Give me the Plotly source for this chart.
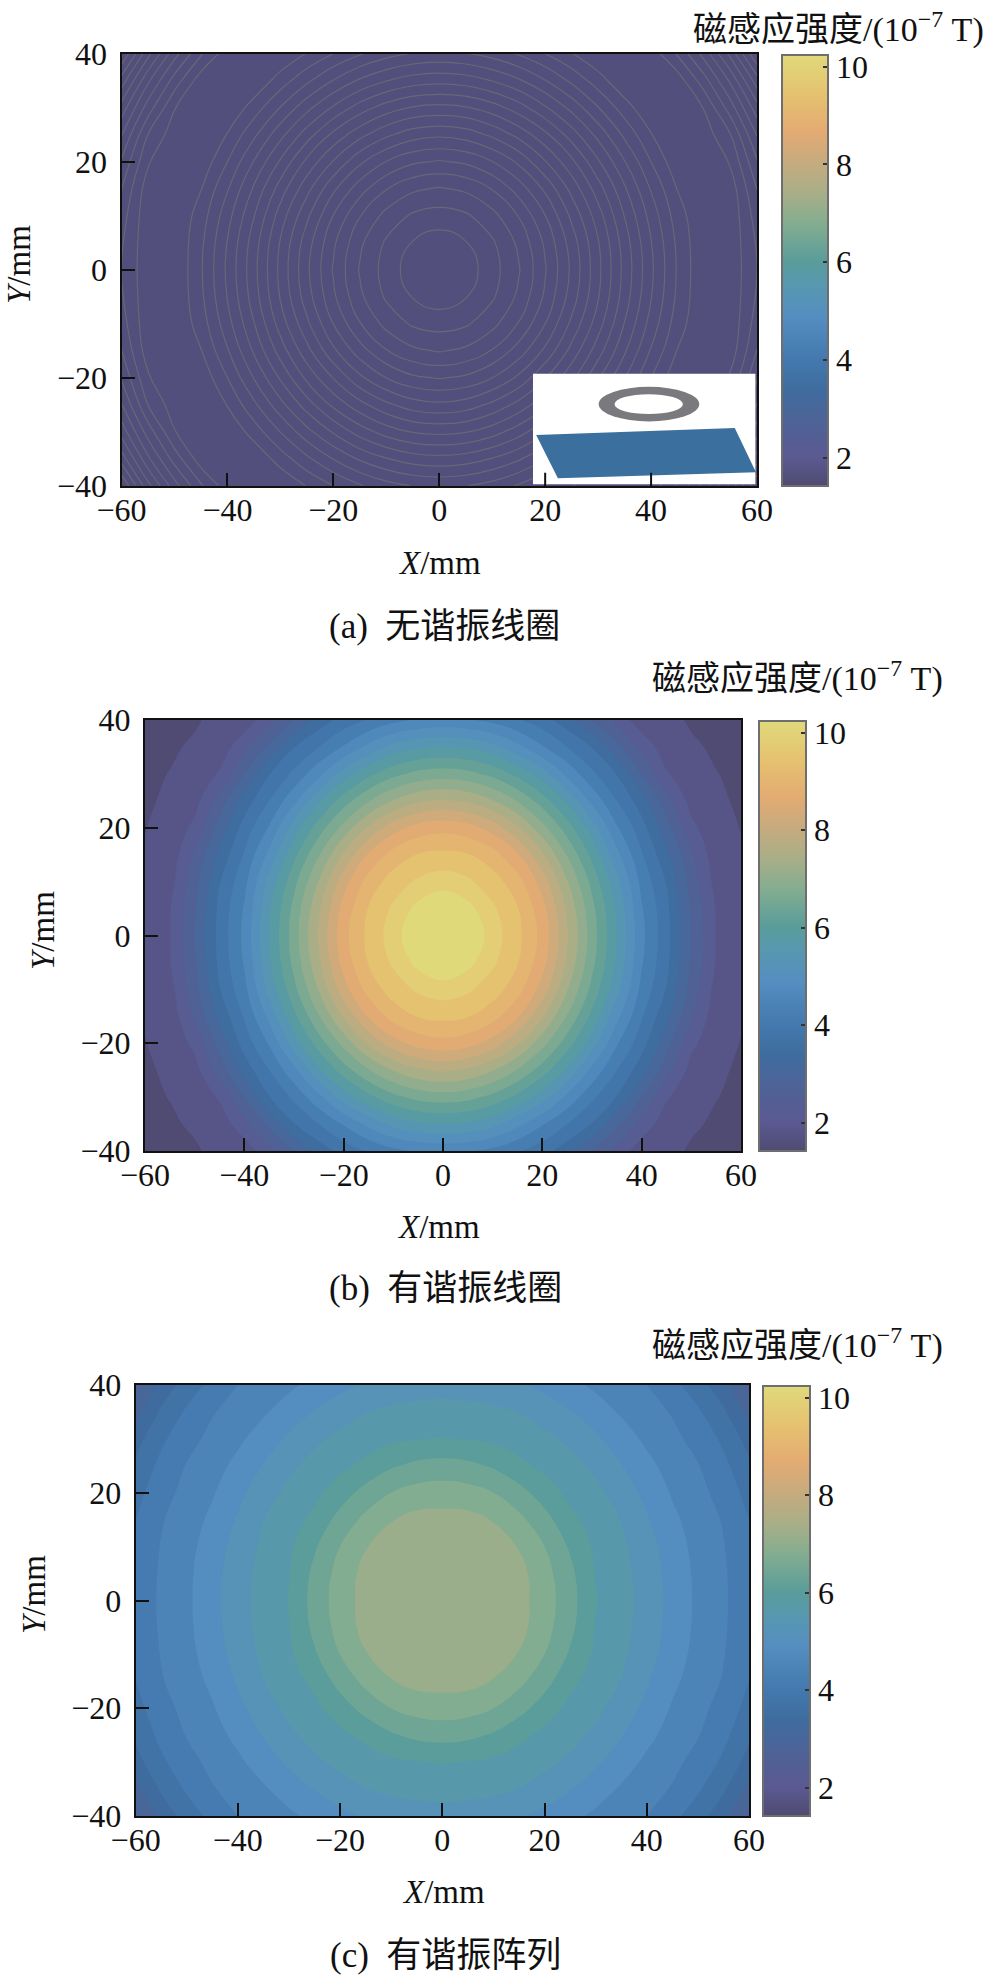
import numpy as np
import plotly.graph_objects as go

W, H = 987, 1982

# grid of one quarter of the plane
x_quarter = [0, 5, 10, 15, 20, 25, 30, 35, 40, 45, 50, 55, 60]
y_quarter = [0, 5, 10, 15, 20, 25, 30, 35, 40]

# (a) no resonant coil: almost flat, rings only (ring number per grid point)
rings_a = [
    [0, 0.47, 1.6, 2.91, 4.91, 7.21, 9.73, 12.32, 14.8, 17.12, 18.9, 18.3, 20],
    [0.47, 0.95, 1.85, 3.2, 5.19, 7.47, 9.91, 12.5, 14.95, 17.22, 18.9, 18.3, 20.12],
    [1.6, 1.85, 2.66, 4.06, 5.98, 8.23, 10.54, 13.05, 15.4, 17.54, 18.9, 18.3, 20.46],
    [2.91, 3.2, 4.06, 5.45, 7.21, 9.34, 11.55, 13.85, 16.1, 18.05, 18.5, 18.45, 21.03],
    [4.91, 5.19, 5.98, 7.21, 8.94, 10.75, 12.87, 14.95, 17.01, 18.74, 18.3, 19.1, 21.91],
    [7.21, 7.47, 8.23, 9.34, 10.75, 12.5, 14.33, 16.23, 17.95, 18.9, 18.43, 20.0, 23.07],
    [9.73, 9.91, 10.54, 11.55, 12.87, 14.33, 15.97, 17.54, 18.9, 18.3, 19.05, 21.53, 24.6],
    [12.32, 12.5, 13.05, 13.85, 14.95, 16.23, 17.54, 18.84, 18.35, 18.45, 20.57, 23.21, 26.55],
    [14.8, 14.95, 15.4, 16.1, 17.01, 17.95, 18.9, 18.35, 18.44, 20.12, 22.42, 25.34, 29],
]

# (b) resonant coil
z_b = [
    [10.5, 10.39, 9.8, 9.3, 8.67, 7.65, 6.6, 5.6, 4.5, 3.73, 2.8, 1.98, 1.71],
    [10.39, 10.13, 9.67, 9.22, 8.56, 7.53, 6.52, 5.53, 4.44, 3.7, 2.75, 1.97, 1.7],
    [9.8, 9.67, 9.39, 8.96, 8.23, 7.22, 6.28, 5.32, 4.28, 3.58, 2.64, 1.85, 1.67],
    [9.3, 9.22, 8.96, 8.45, 7.65, 6.77, 5.89, 4.91, 4.04, 3.31, 2.45, 1.75, 1.63],
    [8.67, 8.56, 8.23, 7.65, 6.94, 6.2, 5.39, 4.44, 3.77, 2.95, 2.1, 1.72, 1.59],
    [7.65, 7.53, 7.22, 6.77, 6.2, 5.53, 4.69, 4.0, 3.37, 2.56, 1.85, 1.66, 1.55],
    [6.6, 6.52, 6.28, 5.89, 5.39, 4.69, 4.09, 3.58, 2.8, 2.05, 1.72, 1.61, 1.53],
    [5.6, 5.53, 5.32, 4.91, 4.44, 4.0, 3.58, 2.9, 2.28, 1.75, 1.65, 1.55, 1.5],
    [4.5, 4.44, 4.28, 4.04, 3.77, 3.37, 2.8, 2.28, 1.75, 1.7, 1.56, 1.52, 1.46],
]

# (c) resonant array
z_c = [
    [7.45, 7.42, 7.32, 7.24, 6.9, 6.45, 5.92, 5.65, 5.35, 4.97, 4.62, 4.36, 4.04],
    [7.42, 7.38, 7.29, 7.23, 6.85, 6.4, 5.88, 5.63, 5.32, 4.95, 4.61, 4.35, 4.02],
    [7.32, 7.29, 7.25, 7.08, 6.7, 6.25, 5.82, 5.58, 5.26, 4.89, 4.57, 4.32, 3.97],
    [7.24, 7.23, 7.08, 6.8, 6.45, 6.0, 5.72, 5.49, 5.14, 4.79, 4.5, 4.27, 3.9],
    [6.9, 6.85, 6.7, 6.45, 6.1, 5.8, 5.6, 5.32, 4.99, 4.66, 4.42, 4.15, 3.76],
    [6.45, 6.4, 6.25, 6.0, 5.8, 5.63, 5.42, 5.12, 4.81, 4.54, 4.32, 4.01, 3.58],
    [5.92, 5.88, 5.82, 5.72, 5.6, 5.42, 5.17, 4.89, 4.62, 4.4, 4.17, 3.82, 3.35],
    [5.65, 5.63, 5.58, 5.49, 5.32, 5.12, 4.89, 4.65, 4.45, 4.27, 3.96, 3.56, 2.97],
    [5.35, 5.32, 5.26, 5.14, 4.99, 4.81, 4.62, 4.45, 4.3, 4.02, 3.68, 3.23, 2.6],
]

x_ticks = [-60, -40, -20, 0, 20, 40, 60]
y_ticks = [-40, -20, 0, 20, 40]
cbar_ticks = [2, 4, 6, 8, 10]
captions = ["(a)  无谐振线圈", "(b)  有谐振线圈", "(c)  有谐振阵列"]

scale = [
    [0, "#4f4b72"], [0.066, "#5b5991"], [0.145, "#4f6296"], [0.224, "#3f6c9f"],
    [0.293, "#4379ae"], [0.395, "#558ec0"], [0.468, "#5798af"], [0.519, "#599c9b"],
    [0.61, "#84ad90"], [0.678, "#a8ae88"], [0.746, "#c4ab7f"], [0.825, "#e4ab72"],
    [0.91, "#e5c270"], [1, "#e0d97a"],
]
flat_purple = [[0, "#524f7c"], [1, "#524f7c"]]

SERIF = "Liberation Serif, Noto Sans CJK SC"


def fx(px):
    return px / W


def fy(py):
    return 1 - py / H


def mirror(quarter):
    q = np.array(quarter, dtype=float)
    top = np.hstack([q[:, :0:-1], q])
    return np.vstack([top[:0:-1], top])


x_full = [-v for v in x_quarter[:0:-1]] + x_quarter
y_full = [-v for v in y_quarter[:0:-1]] + y_quarter

# pixel boxes: plot left, right, top, bottom, colourbar left, right, top, bottom
boxes = [
    (121.5, 757, 53.5, 485.7, 782, 828, 55, 486),
    (145, 741, 720, 1151, 759, 806, 721, 1151),
    (135.6, 749, 1385, 1816, 763, 810, 1386, 1816),
]
# text centres: X title, Y title, caption, colourbar title
text_pos = [
    ((439, 563), (19, 265), (444, 626), (838, 27)),
    ((438, 1227), (43, 931), (445, 1288), (797, 677)),
    ((443, 1892), (34, 1595), (445, 1955), (797, 1343)),
]

fig = go.Figure()

fig.add_trace(go.Contour(
    x=x_full, y=y_full, z=mirror(rings_a), colorscale=flat_purple, showscale=False,
    xaxis="x", yaxis="y", autocontour=False,
    contours=dict(start=1, end=29, size=1, coloring="fill", showlines=True),
    line=dict(color="#6a6677", width=1.2, smoothing=1.3),
))
fig.add_trace(go.Contour(
    x=x_full, y=y_full, z=mirror(z_b), colorscale=scale, showscale=False,
    xaxis="x2", yaxis="y2", autocontour=False,
    contours=dict(start=1.6, end=10.0, size=0.4, coloring="fill", showlines=False),
    line=dict(width=0, smoothing=1.3),
))
fig.add_trace(go.Contour(
    x=x_full, y=y_full, z=mirror(z_c), colorscale=scale, showscale=False,
    xaxis="x3", yaxis="y3", autocontour=False,
    contours=dict(start=1.5, end=10.3, size=0.4, coloring="fill", showlines=False),
    line=dict(width=0, smoothing=1.3),
))

axis_style = dict(
    showgrid=False, zeroline=False, showline=True, mirror=True,
    linecolor="#111111", linewidth=2, ticks="inside", ticklen=13, tickwidth=2,
    tickcolor="#111111", tickfont=dict(family=SERIF, size=32, color="#111111"),
)

layout = dict(
    width=W, height=H, autosize=False,
    margin=dict(l=0, r=0, t=0, b=0, autoexpand=False),
    paper_bgcolor="white", plot_bgcolor="white", showlegend=False,
)
annotations = []

for i, box in enumerate(boxes):
    suffix = "" if i == 0 else str(i + 1)
    left, right, top, bottom, c_left, c_right, c_top, c_bottom = box
    layout["xaxis" + suffix] = dict(
        axis_style, domain=[fx(left), fx(right)], range=[-60, 60],
        tickvals=x_ticks, anchor="y" + suffix, ticklabelstandoff=-5,
    )
    layout["yaxis" + suffix] = dict(
        axis_style, domain=[fy(bottom), fy(top)], range=[-40, 40],
        tickvals=y_ticks, anchor="x" + suffix, ticklabelstandoff=6,
    )
    layout["coloraxis" + suffix] = dict(
        cmin=1.42, cmax=10.24, colorscale=scale,
        colorbar=dict(
            x=fx(c_left), xanchor="left", xpad=0, ypad=0,
            y=fy(c_top), yanchor="top", len=(c_bottom - c_top) / H, lenmode="fraction",
            thickness=c_right - c_left, thicknessmode="pixels",
            outlinecolor="#6e6e6e", outlinewidth=2, borderwidth=0,
            ticks="inside", ticklen=6, tickwidth=1.5, tickcolor="#333333",
            tickvals=cbar_ticks, tickfont=dict(family=SERIF, size=32, color="#111111"),
        ),
    )
    # no visible point: only carries the continuous colour bar of this panel
    fig.add_trace(go.Scatter(
        x=[None], y=[None], mode="markers", hoverinfo="skip",
        marker=dict(coloraxis="coloraxis" + suffix, color=[cbar_ticks[0]]),
        xaxis="x" + suffix, yaxis="y" + suffix,
    ))
    xt, yt, cap, ct = text_pos[i]
    for (px, py), text, angle, size in [
        (xt, "<i>X</i>/mm", 0, 33),
        (yt, "<i>Y</i>/mm", -90, 33),
        (cap, captions[i], 0, 35),
        (ct, "磁感应强度/(10<sup>−7</sup> T)", 0, 34),
    ]:
        annotations.append(dict(
            x=fx(px), y=fy(py), xref="paper", yref="paper", text=text, showarrow=False,
            xanchor="center", yanchor="middle", textangle=angle,
            font=dict(family=SERIF, size=size, color="#111111"),
        ))

layout["annotations"] = annotations

# inset sketch of the coil over the sensing plane, in panel (a)
layout["shapes"] = [
    dict(type="rect", xref="x", yref="y", x0=17.7, x1=59.7, y0=-39.75, y1=-19.3,
         fillcolor="white", line=dict(width=0), layer="above"),
    dict(type="path", xref="x", yref="y",
         path="M 18.3 -30.6 L 55.8 -29.3 L 59.8 -37.5 L 22.4 -38.6 Z",
         fillcolor="#3a6f9e", line=dict(width=0), layer="above"),
    dict(type="circle", xref="x", yref="y", x0=30.1, x1=49.1, y0=-28.1, y1=-21.7,
         fillcolor="#7a797d", line=dict(width=0), layer="above"),
    dict(type="circle", xref="x", yref="y", x0=33.1, x1=46.0, y0=-26.75, y1=-23.05,
         fillcolor="white", line=dict(width=0), layer="above"),
    dict(type="line", xref="x", yref="y", x0=20, x1=20, y0=-40, y1=-37.6,
         line=dict(color="#111111", width=2), layer="above"),
    dict(type="line", xref="x", yref="y", x0=40, x1=40, y0=-40, y1=-37.6,
         line=dict(color="#111111", width=2), layer="above"),
]

fig.update_layout(**layout)

fig.write_html("out.html", config={"displayModeBar": False},
               post_script="document.body.style.margin='0';")
